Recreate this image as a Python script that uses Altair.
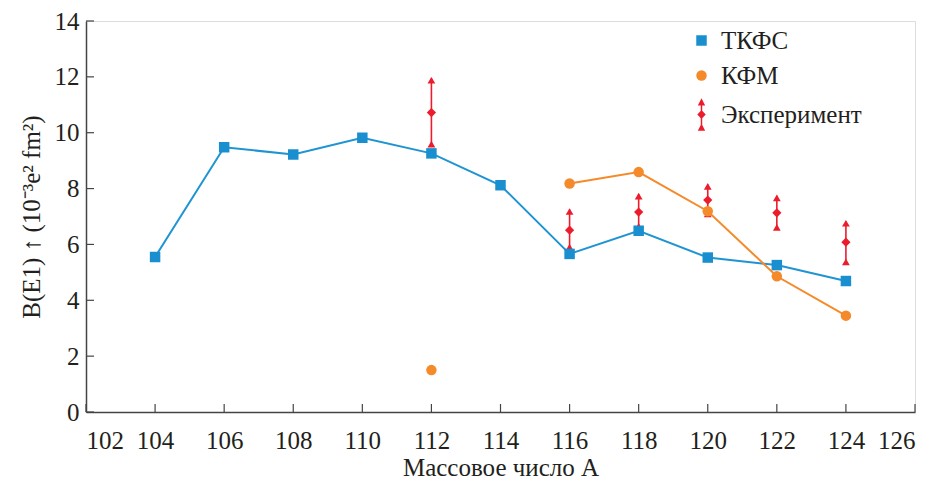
import altair as alt
import pandas as pd

# ---- data ----
A_tkfs = [104, 106, 108, 110, 112, 114, 116, 118, 120, 122, 124]
B_tkfs = [5.55, 9.48, 9.22, 9.82, 9.26, 8.12, 5.66, 6.49, 5.53, 5.26, 4.69]

A_kfm = [112, 116, 118, 120, 122, 124]
B_kfm = [1.50, 8.18, 8.59, 7.19, 4.86, 3.45]
kfm_connected = [False, True, True, True, True, True]

A_exp = [112, 116, 118, 120, 122, 124]
B_exp = [10.72, 6.51, 7.16, 7.59, 7.13, 6.08]
B_exp_lo = [9.52, 5.83, 6.58, 7.02, 6.54, 5.30]
B_exp_hi = [11.95, 7.25, 7.80, 8.15, 7.74, 6.83]

x_ticks = [102, 104, 106, 108, 110, 112, 114, 116, 118, 120, 122, 124, 126]
y_ticks = [0, 2, 4, 6, 8, 10, 12, 14]

series_names = ["ТКФС", "КФМ", "Эксперимент"]
series_colors = ["#1a8fcf", "#f58a2a", "#ec1c2c"]

W, H = 829, 391
FONT = "Times New Roman"

exp_symbol = (
    "M-0.14,-2.3 L0.14,-2.3 L0.14,2.9 L-0.14,2.9 Z "
    "M0,-3.1 L0.7,-1.7 L-0.7,-1.7 Z "
    "M0,1.7 L0.7,3.1 L-0.7,3.1 Z "
    "M0,-0.85 L0.8,0 L0,0.85 L-0.8,0 Z"
)

df_tkfs = pd.DataFrame({"A": A_tkfs, "B": B_tkfs, "series": "ТКФС"})
df_kfm = pd.DataFrame({"A": A_kfm, "B": B_kfm, "series": "КФМ", "conn": kfm_connected})
df_pts = pd.concat([df_tkfs, df_kfm.drop(columns="conn")], ignore_index=True)
df_exp = pd.DataFrame({"A": A_exp, "B": B_exp, "lo": B_exp_lo, "hi": B_exp_hi})
df_xt = pd.DataFrame({"t": x_ticks})
df_yt = pd.DataFrame({"t": y_ticks})

xscale = alt.Scale(domain=[102, 126], nice=False, zero=False)
yscale = alt.Scale(domain=[0, 14], nice=False)

xenc = alt.X(
    "A:Q", scale=xscale,
    axis=alt.Axis(values=x_ticks, ticks=False, grid=False, labelFontSize=25,
                  labelFont=FONT, labelColor="#231f20", labelPadding=16,
                  domainColor="#444444", domainWidth=1.5,
                  title="Массовое число A", titleFont=FONT, titleFontSize=25,
                  titleFontWeight="normal", titleColor="#231f20", titlePadding=2,
                  format="d"),
)
yenc = alt.Y(
    "B:Q", scale=yscale,
    axis=alt.Axis(values=y_ticks, ticks=False, grid=False, labelFontSize=25,
                  labelFont=FONT, labelColor="#231f20", labelPadding=7,
                  domainColor="#444444", domainWidth=1.5,
                  title="B(E1) ↑ (10⁻³e² fm²)", titleFont=FONT, titleFontSize=25,
                  titleFontWeight="normal", titleColor="#231f20", titlePadding=10),
)

line_tkfs = alt.Chart(df_tkfs).mark_line(color="#1f94d2", strokeWidth=2).encode(x=xenc, y=yenc)
line_kfm = alt.Chart(df_kfm).transform_filter("datum.conn").mark_line(
    color="#f58a2a", strokeWidth=2).encode(x="A:Q", y="B:Q")

points = alt.Chart(df_pts).mark_point(filled=True, opacity=1, size=110).encode(
    x="A:Q", y="B:Q",
    color=alt.Color("series:N", scale=alt.Scale(domain=series_names, range=series_colors),
                    legend=alt.Legend(title=None, orient="none", legendX=603, legendY=7,
                                      labelFont=FONT, labelFontSize=25, labelColor="#231f20",
                                      symbolSize=110, rowPadding=9, labelOffset=7,
                                      symbolStrokeWidth=0, padding=0)),
    shape=alt.Shape("series:N", scale=alt.Scale(domain=series_names,
                                                range=["square", "circle", exp_symbol]),
                    legend=None),
)

err_rule = alt.Chart(df_exp).mark_rule(color="#ec1c2c", strokeWidth=1.6).encode(
    x="A:Q", y="lo:Q", y2="hi:Q")
err_hi = alt.Chart(df_exp).mark_point(shape="triangle-up", filled=True, opacity=1,
                                      size=60, color="#ec1c2c", yOffset=2).encode(x="A:Q", y="hi:Q")
err_lo = alt.Chart(df_exp).mark_point(shape="triangle-up", filled=True, opacity=1,
                                      size=60, color="#ec1c2c", yOffset=-2).encode(x="A:Q", y="lo:Q")
err_mid = alt.Chart(df_exp).mark_point(shape="diamond", filled=True, opacity=1,
                                       size=85, color="#ec1c2c").encode(x="A:Q", y="B:Q")

xt = alt.Chart(df_xt).mark_rule(color="#444444", strokeWidth=1.2).encode(
    x="t:Q", y=alt.value(H), y2=alt.value(H - 8))
yt = alt.Chart(df_yt).mark_rule(color="#444444", strokeWidth=1.2).encode(
    y="t:Q", x=alt.value(0), x2=alt.value(8))

chart = alt.layer(line_tkfs, line_kfm, xt, yt, err_rule, err_hi, err_lo, points, err_mid).properties(
    width=W, height=H,
    autosize=alt.AutoSizeParams(type="none"),
    padding={"left": 78, "top": 13, "right": 14, "bottom": 70},
).configure_view(stroke=None).configure(background="white")

chart.save("out.html", embed_options={"renderer": "svg", "actions": False})
